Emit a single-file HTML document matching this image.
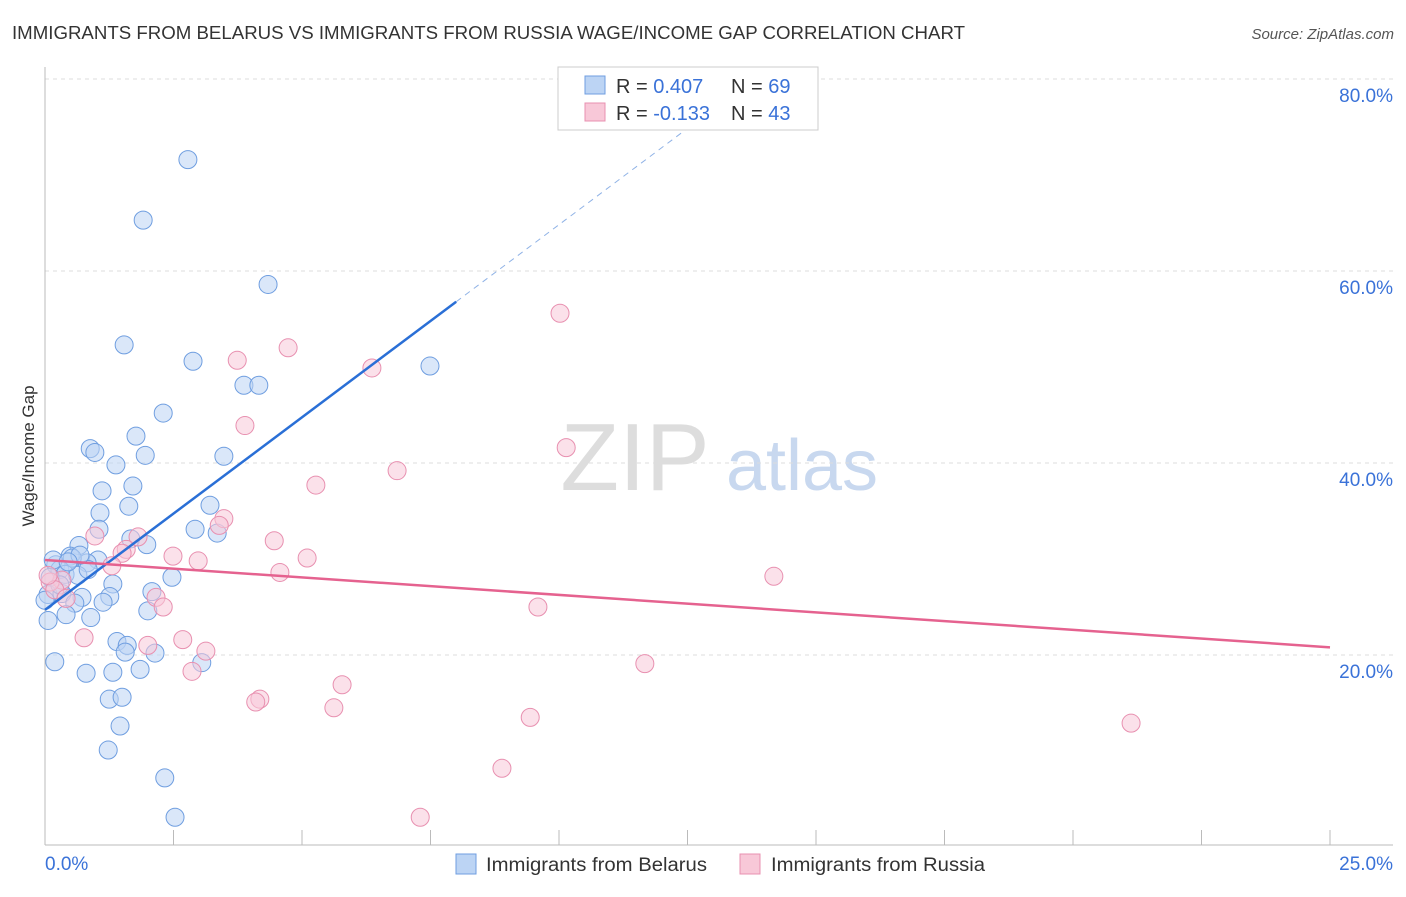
<!DOCTYPE html>
<html><head><meta charset="utf-8"><style>
body{margin:0;background:#fff;font-family:"Liberation Sans",sans-serif;}
svg text{font-family:"Liberation Sans",sans-serif;}
</style></head><body>
<svg id="chart" width="1406" height="892">
<text x="12" y="39" font-size="18" fill="#333" textLength="953" lengthAdjust="spacingAndGlyphs">IMMIGRANTS FROM BELARUS VS IMMIGRANTS FROM RUSSIA WAGE/INCOME GAP CORRELATION CHART</text>
<text x="1394" y="39" font-size="15" fill="#555" text-anchor="end" font-style="italic">Source: ZipAtlas.com</text>
<g><text x="635" y="490" font-size="96" font-family="Liberation Serif" fill="#ddd" text-anchor="middle">ZIP</text><text x="802" y="490" font-size="72" fill="#c8d8ef" text-anchor="middle">atlas</text></g>
<g id="grid"></g><g id="axes"></g><g id="pts"></g><g id="trend"></g>
<text transform="translate(34,456) rotate(-90)" font-size="17" fill="#333" text-anchor="middle">Wage/Income Gap</text>
<g>
<rect x="558" y="67" width="260" height="63" fill="#fff" stroke="#ccc"/>
<rect x="585" y="76" width="20" height="18" fill="#bcd4f4" stroke="#6f9ee0"/>
<rect x="585" y="103" width="20" height="18" fill="#f8c8d8" stroke="#e890b0"/>
<text x="616" y="93" font-size="20" fill="#333">R = <tspan fill="#3a72d8">0.407</tspan></text>
<text x="731" y="93" font-size="20" fill="#333">N = <tspan fill="#3a72d8">69</tspan></text>
<text x="616" y="120" font-size="20" fill="#333">R = <tspan fill="#3a72d8">-0.133</tspan></text>
<text x="731" y="120" font-size="20" fill="#333">N = <tspan fill="#3a72d8">43</tspan></text>
</g>
<g>
<rect x="456" y="854" width="20" height="20" fill="#bcd4f4" stroke="#6f9ee0"/>
<text x="486" y="871" font-size="19" fill="#333" textLength="221" lengthAdjust="spacingAndGlyphs">Immigrants from Belarus</text>
<rect x="740" y="854" width="20" height="20" fill="#f8c8d8" stroke="#e890b0"/>
<text x="771" y="871" font-size="19" fill="#333" textLength="214" lengthAdjust="spacingAndGlyphs">Immigrants from Russia</text>
</g>
</svg>
<script>
const xTickLabels=["0.0%","25.0%"];
const yTicks=[20,40,60,80];
const yTickLabels=["20.0%","40.0%","60.0%","80.0%"];
const belarusX=[2.78,1.91,4.34,1.54,2.88,7.49,3.87,4.16,2.30,1.77,0.88,0.97,1.95,3.48,1.38,1.11,1.71,3.21,1.63,1.07,1.05,2.92,3.35,1.67,1.98,0.66,0.49,1.03,0.82,0.21,0.53,0.29,0.39,0.10,1.32,0.64,2.08,2.47,0.06,0.33,0.72,1.26,0.58,1.13,0.06,0.41,0.89,2.00,1.40,1.60,1.56,2.14,0.19,1.85,0.80,1.32,3.05,1.25,1.50,1.46,1.23,2.33,2.53,0.29,0.16,0.84,0.68,0.0,0.45];
const belarusY=[71.6,65.3,58.6,52.3,50.6,50.1,48.1,48.1,45.2,42.8,41.5,41.1,40.8,40.7,39.8,37.1,37.6,35.6,35.5,34.8,33.1,33.1,32.7,32.1,31.5,31.4,30.3,29.9,29.6,29.4,30.1,28.9,28.4,28.1,27.4,28.3,26.6,28.1,26.3,26.4,26.0,26.1,25.4,25.5,23.6,24.2,23.9,24.6,21.4,21.0,20.3,20.2,19.3,18.5,18.1,18.2,19.2,15.4,15.6,12.6,10.1,7.2,3.1,27.3,29.9,28.9,30.4,25.7,29.7];
const russiaX=[10.02,4.73,3.74,6.36,3.89,10.14,6.85,5.27,3.48,3.39,1.81,0.97,4.46,1.58,1.50,2.49,5.10,2.98,1.30,4.57,14.18,0.33,0.10,0.19,0.41,2.16,2.30,9.59,0.76,2.00,2.68,3.13,11.67,2.86,5.78,4.18,4.10,5.62,9.44,21.13,8.89,7.30,0.06];
const russiaY=[55.6,52.0,50.7,49.9,43.9,41.6,39.2,37.7,34.2,33.5,32.3,32.4,31.9,31.0,30.6,30.3,30.1,29.8,29.3,28.6,28.2,27.8,27.6,26.8,25.9,26.0,25.0,25.0,21.8,21.0,21.6,20.4,19.1,18.3,16.9,15.4,15.1,14.5,13.5,12.9,8.2,3.1,28.3];
const belarusTrend=[24.7,56.8]; // y at x=0 and x=8
const russiaTrend=[29.9,20.8];  // y at x=0 and x=25
const NS="http://www.w3.org/2000/svg";
const X=v=>45+v/25*1285, Y=v=>847-v*9.6;
function mk(tag,attrs,parent){const e=document.createElementNS(NS,tag);for(const k in attrs)e.setAttribute(k,attrs[k]);document.getElementById(parent).appendChild(e);return e;}
yTicks.forEach((t,i)=>{
 const g=mk('line',{x1:45,x2:1393,y1:Y(t),y2:Y(t),stroke:'#ddd','stroke-dasharray':'4,4'},'grid');
 
 
 const l=mk('text',{x:1393,y:Y(t)+23,'font-size':19,fill:'#3a72d8','text-anchor':'end'},'grid');
 l.textContent=yTickLabels[i];
 
 
});
const ax=mk('line',{x1:45,x2:45,y1:67,y2:845,stroke:'#bbb'},'axes');


const bx=mk('line',{x1:45,x2:1393,y1:845,y2:845,stroke:'#bbb'},'axes');


for(let i=0;i<=10;i++){const t=mk('line',{x1:X(i*2.5),x2:X(i*2.5),y1:830,y2:845,stroke:'#bbb'},'axes');
 
 }
[[0,'start',45],[25,'end',1393]].forEach((d,i)=>{const t=mk('text',{x:d[2],y:870,'font-size':19,fill:'#3a72d8','text-anchor':d[1]},'axes');t.textContent=xTickLabels[i];
 
 });
function pts(xs,ys,fill,stroke,name){xs.forEach((x,i)=>{const c=mk('circle',{cx:X(x),cy:Y(ys[i]),r:9,fill:fill,'fill-opacity':0.55,stroke:stroke,'stroke-width':1},'pts');
 
 });}
pts(belarusX,belarusY,'#bcd4f4','#6f9ee0','point-belarus');
pts(russiaX,russiaY,'#f8c8d8','#e890b0','point-russia');
const bs=(belarusTrend[1]-belarusTrend[0])/8;
const b1=mk('line',{x1:X(0),y1:Y(belarusTrend[0]),x2:X(8),y2:Y(belarusTrend[1]),stroke:'#2a6fd6','stroke-width':2.5},'trend');


const b2=mk('line',{x1:X(8),y1:Y(belarusTrend[1]),x2:X(13.6),y2:Y(belarusTrend[0]+bs*13.6),stroke:'#8fb2e6','stroke-width':1,'stroke-dasharray':'6,5'},'trend');


const r1=mk('line',{x1:X(0),y1:Y(russiaTrend[0]),x2:X(25),y2:Y(russiaTrend[1]),stroke:'#e5628f','stroke-width':2.5},'trend');


</script>
</body></html>
